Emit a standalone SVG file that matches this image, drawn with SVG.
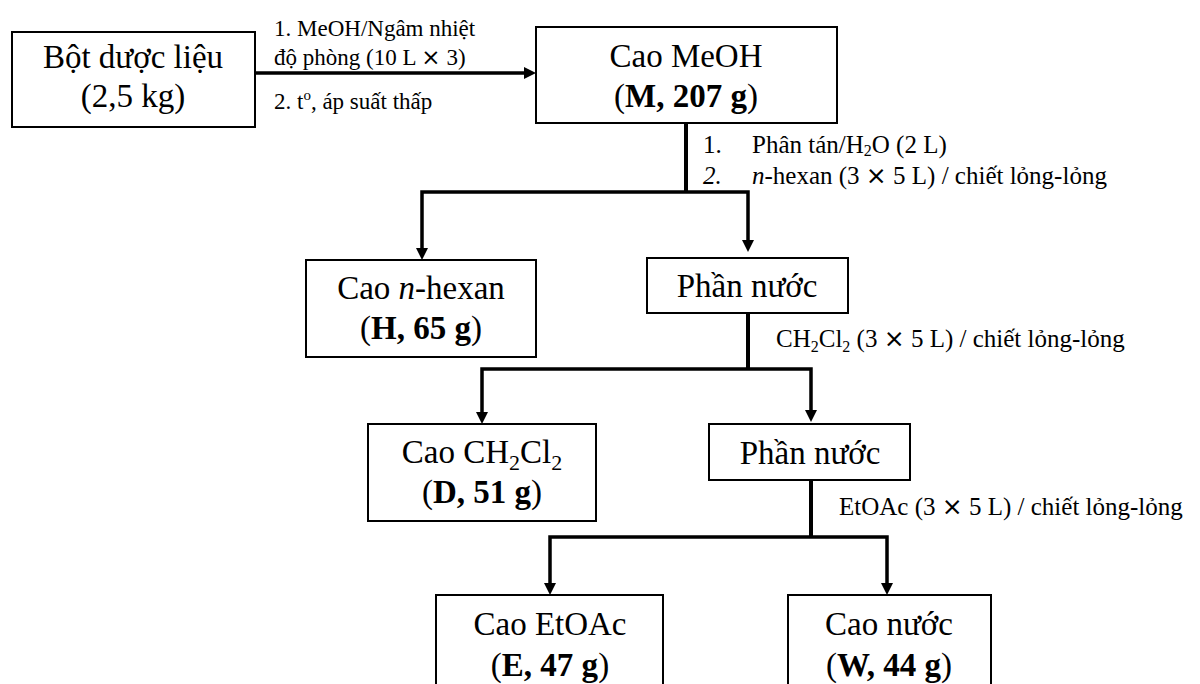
<svg xmlns="http://www.w3.org/2000/svg" width="1200" height="684" viewBox="0 0 1200 684">
<style>
.box{fill:#fff;stroke:#000;stroke-width:2}
.t{font-family:"Liberation Serif","Times New Roman",serif;font-size:33px;fill:#000;text-anchor:middle}
.b{font-weight:bold}
.lab{font-family:"Liberation Serif","Times New Roman",serif;font-size:25px;fill:#000}
.lab1{font-family:"Liberation Serif","Times New Roman",serif;font-size:23px;fill:#000}
.x{font-family:"DejaVu Sans",sans-serif}
.c{fill:none;stroke:#000;stroke-width:4}
.a{fill:none;stroke:#000;stroke-width:3.5;marker-end:url(#ah)}
</style>
<defs>
<marker id="ah" markerUnits="userSpaceOnUse" markerWidth="14" markerHeight="12" refX="4" refY="6" orient="auto">
<path d="M0,0 L12,6 L0,12 z" fill="#000"/>
</marker>
</defs>
<rect width="1200" height="684" fill="#fff"/>
<g id="connectors">
<path class="a" d="M255,73 H528"/>
<path class="c" d="M686,123 V192"/>
<path class="a" d="M686,192 H422 V252"/>
<path class="a" d="M686,192 H748 V244"/>
<path class="c" d="M748,313 V369"/>
<path class="a" d="M748,369 H482 V416"/>
<path class="a" d="M748,369 H811 V414"/>
<path class="c" d="M811,480 V537"/>
<path class="a" d="M811,537 H550 V587"/>
<path class="a" d="M811,537 H887 V587"/>
</g>
<g id="labels">
<text class="lab1" x="274" y="36">1. MeOH/Ngâm nhiệt</text>
<text class="lab1" x="274" y="65">độ phòng (10 L <tspan class="x">×</tspan> 3)</text>
<text class="lab1" x="274" y="109">2. t<tspan font-size="15" dy="-9">o</tspan><tspan dy="9">, áp suất thấp</tspan></text>
<text class="lab" x="703" y="153">1.</text>
<text class="lab" x="752" y="153">Phân tán/H<tspan font-size="16" dy="3">2</tspan><tspan dy="-3">O (2 L)</tspan></text>
<text class="lab" x="703" y="184" font-style="italic">2.</text>
<text class="lab" x="752" y="184"><tspan font-style="italic">n</tspan>-hexan (3 <tspan class="x">×</tspan> 5 L) / chiết lỏng-lỏng</text>
<text class="lab" x="776" y="347">CH<tspan font-size="16" dy="5">2</tspan><tspan dy="-5">Cl</tspan><tspan font-size="16" dy="5">2</tspan><tspan dy="-5"> (3 </tspan><tspan class="x">×</tspan> 5 L) / chiết lỏng-lỏng</text>
<text class="lab" x="839" y="515">EtOAc (3 <tspan class="x">×</tspan> 5 L) / chiết lỏng-lỏng</text>
</g>
<g id="bot-duoc-lieu">
<rect class="box" x="12" y="32" width="243" height="95"/>
<text class="t" x="133" y="68">Bột dược liệu</text>
<text class="t" x="133" y="107">(2,5 kg)</text>
</g>
<g id="cao-meoh">
<rect class="box" x="536" y="27" width="301" height="96"/>
<text class="t" x="686" y="67">Cao MeOH</text>
<text class="t" x="686" y="107">(<tspan class="b">M, 207 g</tspan>)</text>
</g>
<g id="cao-hexan">
<rect class="box" x="306" y="260" width="230" height="97"/>
<text class="t" x="421" y="299">Cao <tspan font-style="italic">n</tspan>-hexan</text>
<text class="t" x="421" y="339">(<tspan class="b">H, 65 g</tspan>)</text>
</g>
<g id="phan-nuoc-1">
<rect class="box" x="647" y="258" width="201" height="55"/>
<text class="t" x="747" y="297">Phần nước</text>
</g>
<g id="cao-ch2cl2">
<rect class="box" x="368" y="424" width="228" height="97"/>
<text class="t" x="482" y="463">Cao CH<tspan font-size="22" dy="7">2</tspan><tspan dy="-7">Cl</tspan><tspan font-size="22" dy="7">2</tspan></text>
<text class="t" x="482" y="503">(<tspan class="b">D, 51 g</tspan>)</text>
</g>
<g id="phan-nuoc-2">
<rect class="box" x="709" y="424" width="201" height="56"/>
<text class="t" x="810" y="464">Phần nước</text>
</g>
<g id="cao-etoac">
<rect class="box" x="436" y="595" width="227" height="110"/>
<text class="t" x="550" y="635">Cao EtOAc</text>
<text class="t" x="550" y="676">(<tspan class="b">E, 47 g</tspan>)</text>
</g>
<g id="cao-nuoc">
<rect class="box" x="788" y="595" width="203" height="110"/>
<text class="t" x="889" y="635">Cao nước</text>
<text class="t" x="889" y="676">(<tspan class="b">W, 44 g</tspan>)</text>
</g>
</svg>
